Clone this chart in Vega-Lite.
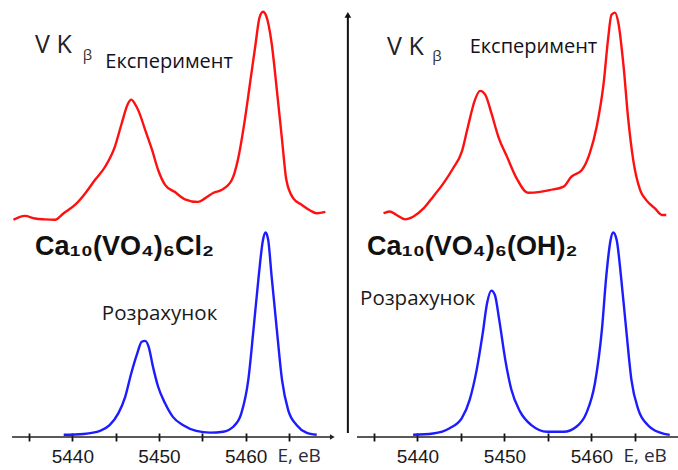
{
  "$schema": "https://vega.github.io/schema/vega-lite/v6.json",
  "padding": 0,
  "bounds": "flush",
  "spacing": 14,
  "background": "white",
  "config": {"view": {"stroke": null}, "font": "Liberation Sans"},
  "datasets": {
    "expL": [
      {"E":5433.2,"v":49.7},{"E":5434.5,"v":50.6},{"E":5435.7,"v":50.0},{"E":5436.8,"v":49.8},{"E":5438.0,"v":49.7},
      {"E":5439.0,"v":51.2},{"E":5440.3,"v":53.1},{"E":5441.5,"v":55.8},{"E":5442.6,"v":58.8},{"E":5443.8,"v":61.9},
      {"E":5444.9,"v":66.4},{"E":5445.7,"v":71.8},{"E":5446.4,"v":76.2},{"E":5446.8,"v":77.2},{"E":5447.2,"v":76.3},
      {"E":5447.6,"v":74.8},{"E":5448.4,"v":70.3},{"E":5449.2,"v":65.7},{"E":5449.9,"v":61.1},{"E":5450.7,"v":57.7},
      {"E":5451.8,"v":56.1},{"E":5453.0,"v":54.4},{"E":5454.5,"v":53.8},{"E":5455.3,"v":54.6},{"E":5456.3,"v":55.9},
      {"E":5457.2,"v":56.5},{"E":5458.4,"v":58.8},{"E":5459.1,"v":63.4},{"E":5459.9,"v":72.5},{"E":5460.5,"v":80.9},
      {"E":5461.1,"v":89.3},{"E":5461.6,"v":96.0},{"E":5462.0,"v":97.3},{"E":5462.4,"v":96.2},{"E":5463.0,"v":90.1},
      {"E":5463.6,"v":79.4},{"E":5464.2,"v":68.0},{"E":5464.7,"v":58.8},{"E":5465.5,"v":54.6},{"E":5466.5,"v":53.1},
      {"E":5467.4,"v":51.9},{"E":5468.2,"v":51.2},{"E":5469.2,"v":51.5}
    ],
    "calcL": [
      {"E":5439.0,"v":0.5},{"E":5441.3,"v":0.7},{"E":5443.2,"v":1.4},{"E":5444.3,"v":2.7},{"E":5445.3,"v":5.4},
      {"E":5446.1,"v":9.2},{"E":5446.8,"v":14.6},{"E":5447.5,"v":19.2},{"E":5448.0,"v":21.8},{"E":5448.4,"v":22.0},
      {"E":5448.8,"v":20.7},{"E":5449.3,"v":16.1},{"E":5449.9,"v":11.5},{"E":5450.7,"v":7.7},{"E":5451.6,"v":4.6},
      {"E":5452.8,"v":2.7},{"E":5454.3,"v":1.4},{"E":5455.9,"v":1.0},{"E":5457.4,"v":1.2},{"E":5458.6,"v":2.4},
      {"E":5459.5,"v":5.4},{"E":5460.3,"v":13.0},{"E":5460.9,"v":24.5},{"E":5461.5,"v":36.7},{"E":5462.0,"v":45.1},
      {"E":5462.3,"v":46.8},{"E":5462.6,"v":45.1},{"E":5463.0,"v":36.7},{"E":5463.6,"v":24.5},{"E":5464.2,"v":13.0},
      {"E":5464.9,"v":6.2},{"E":5465.9,"v":2.7},{"E":5467.0,"v":1.0},{"E":5468.2,"v":0.5}
    ],
    "expR": [
      {"E":5436.1,"v":51.2},{"E":5436.8,"v":51.6},{"E":5437.6,"v":50.8},{"E":5438.6,"v":49.8},{"E":5439.5,"v":50.4},
      {"E":5440.7,"v":52.3},{"E":5441.8,"v":55.0},{"E":5443.0,"v":58.1},{"E":5444.1,"v":61.5},{"E":5445.1,"v":65.3},
      {"E":5445.8,"v":71.0},{"E":5446.6,"v":77.1},{"E":5447.2,"v":79.2},{"E":5447.8,"v":78.3},{"E":5448.5,"v":74.1},
      {"E":5449.3,"v":68.7},{"E":5450.3,"v":64.1},{"E":5451.4,"v":59.2},{"E":5452.7,"v":55.9},{"E":5454.1,"v":56.1},
      {"E":5455.2,"v":56.5},{"E":5456.8,"v":57.3},{"E":5457.7,"v":59.6},{"E":5458.9,"v":61.1},{"E":5459.8,"v":64.9},
      {"E":5460.6,"v":71.0},{"E":5461.4,"v":80.9},{"E":5461.9,"v":90.8},{"E":5462.3,"v":96.6},{"E":5462.7,"v":97.1},
      {"E":5463.1,"v":94.7},{"E":5463.7,"v":84.7},{"E":5464.2,"v":73.3},{"E":5464.8,"v":63.4},{"E":5465.6,"v":56.5},
      {"E":5466.3,"v":54.2},{"E":5467.3,"v":52.3},{"E":5468.1,"v":50.8},{"E":5468.6,"v":50.8}
    ],
    "calcR": [
      {"E":5439.5,"v":0.5},{"E":5441.8,"v":0.8},{"E":5443.7,"v":2.0},{"E":5445.1,"v":4.3},{"E":5446.0,"v":8.5},
      {"E":5446.8,"v":15.3},{"E":5447.5,"v":23.7},{"E":5448.0,"v":30.6},{"E":5448.5,"v":33.5},{"E":5448.9,"v":32.5},
      {"E":5449.4,"v":26.8},{"E":5450.1,"v":17.6},{"E":5450.8,"v":10.8},{"E":5451.8,"v":5.8},{"E":5453.1,"v":2.7},
      {"E":5454.9,"v":1.2},{"E":5456.8,"v":1.2},{"E":5458.3,"v":2.4},{"E":5459.4,"v":5.4},{"E":5460.4,"v":12.3},
      {"E":5461.2,"v":24.5},{"E":5461.7,"v":36.7},{"E":5462.2,"v":45.1},{"E":5462.5,"v":46.8},{"E":5462.9,"v":45.1},
      {"E":5463.4,"v":36.7},{"E":5464.0,"v":24.5},{"E":5464.6,"v":13.0},{"E":5465.4,"v":6.2},{"E":5466.5,"v":2.7},
      {"E":5467.9,"v":1.0},{"E":5469.0,"v":0.5}
    ]
  },
  "hconcat": [
    {
      "width": 333,
      "height": 437,
      "encoding": {
        "x": {"field": "E", "type": "quantitative",
          "scale": {"domain": [5431.65, 5470.08], "nice": false, "zero": false},
          "axis": {"values": [5435,5440,5445,5450,5455,5460,5465], "format": "d",
            "labelExpr": "datum.value % 10 == 0 ? datum.label : ''",
            "domain": false, "grid": false, "offset": -4, "tickSize": 8, "tickWidth": 1.8, "tickColor": "#111",
            "labelFont": "Liberation Sans", "labelFontSize": 19, "labelColor": "#1a1a1a", "labelPadding": 6, "labelFlush": false,
            "title": "E, eB", "titleFont": "Open Sans", "titleFontSize": 19, "titleFontWeight": "normal", "titleColor": "#2a2a3a",
            "titleAlign": "left", "titleAnchor": "start", "titleX": 277, "titleY": 28, "titleBaseline": "alphabetic"}},
        "y": {"field": "v", "type": "quantitative", "scale": {"domain": [0, 100], "nice": false}, "axis": null}
      },
      "layer": [
        {"data": {"values": [{"E": 5433.04, "E2": 5470.0, "v": 0}]}, "mark": {"type": "rule", "stroke": "#222", "strokeWidth": 1.6},
         "encoding": {"x2": {"field": "E2"}}},
        {"data": {"values": [{"E": 5470.0, "v": 0}]}, "mark": {"type": "point", "shape": "triangle-right", "filled": true, "color": "#222", "size": 30, "opacity": 1}},
        {"data": {"name": "expL"}, "mark": {"type": "line", "color": "#ff1010", "strokeWidth": 2.4, "interpolate": "monotone"}},
        {"data": {"name": "calcL"}, "mark": {"type": "line", "color": "#1c1cff", "strokeWidth": 2.4, "interpolate": "monotone"}},
        {"data": {"values": [{"E": 5435.7, "v": 87.9, "t": "V K"}]},
         "mark": {"type": "text", "align": "left", "baseline": "alphabetic", "font": "Open Sans", "fontSize": 25, "color": "#222"},
         "encoding": {"text": {"field": "t"}}},
        {"data": {"values": [{"E": 5441.2, "v": 86.3, "t": "β"}]},
         "mark": {"type": "text", "align": "left", "baseline": "alphabetic", "font": "Open Sans", "fontSize": 15, "color": "#333"},
         "encoding": {"text": {"field": "t"}}},
        {"data": {"values": [{"E": 5443.8, "v": 84.4, "t": "Експеримент"}]},
         "mark": {"type": "text", "align": "left", "baseline": "alphabetic", "font": "Open Sans", "fontSize": 20, "color": "#111122"},
         "encoding": {"text": {"field": "t"}}},
        {"data": {"values": [{"E": 5435.7, "v": 41.6, "t": "Ca₁₀(VO₄)₆Cl₂"}]},
         "mark": {"type": "text", "align": "left", "baseline": "alphabetic", "font": "Liberation Sans", "fontWeight": "bold", "fontSize": 27, "color": "#111"},
         "encoding": {"text": {"field": "t"}}},
        {"data": {"values": [{"E": 5443.4, "v": 26.8, "t": "Розрахунок"}]},
         "mark": {"type": "text", "align": "left", "baseline": "alphabetic", "font": "Open Sans", "fontSize": 20.5, "color": "#1a1a1a"},
         "encoding": {"text": {"field": "t"}}}
      ]
    },
    {
      "width": 331,
      "height": 437,
      "encoding": {
        "x": {"field": "E", "type": "quantitative",
          "scale": {"domain": [5431.9, 5469.95], "nice": false, "zero": false},
          "axis": {"values": [5435,5440,5445,5450,5455,5460,5465], "format": "d",
            "labelExpr": "datum.value % 10 == 0 ? datum.label : ''",
            "domain": false, "grid": false, "offset": -4, "tickSize": 8, "tickWidth": 1.8, "tickColor": "#111",
            "labelFont": "Liberation Sans", "labelFontSize": 19, "labelColor": "#1a1a1a", "labelPadding": 6, "labelFlush": false,
            "title": "E, eB", "titleFont": "Open Sans", "titleFontSize": 19, "titleFontWeight": "normal", "titleColor": "#2a2a3a",
            "titleAlign": "left", "titleAnchor": "start", "titleX": 276, "titleY": 28, "titleBaseline": "alphabetic"}},
        "y": {"field": "v", "type": "quantitative", "scale": {"domain": [0, 100], "nice": false}, "axis": null}
      },
      "layer": [
        {"data": {"values": [{"E": 5433.05, "E2": 5469.95, "v": 0}]}, "mark": {"type": "rule", "stroke": "#222", "strokeWidth": 1.6},
         "encoding": {"x2": {"field": "E2"}}},
        {"data": {"values": [{"E": 5432.0, "v": 0.9, "v2": 96.5}]}, "mark": {"type": "rule", "stroke": "#111", "strokeWidth": 2},
         "encoding": {"y2": {"field": "v2"}}},
        {"data": {"values": [{"E": 5432.0, "v": 96.6}]}, "mark": {"type": "point", "shape": "triangle-up", "filled": true, "color": "#111", "size": 45, "opacity": 1}},
        {"data": {"name": "expR"}, "mark": {"type": "line", "color": "#ff1010", "strokeWidth": 2.4, "interpolate": "monotone"}},
        {"data": {"name": "calcR"}, "mark": {"type": "line", "color": "#1c1cff", "strokeWidth": 2.4, "interpolate": "monotone"}},
        {"data": {"values": [{"E": 5436.5, "v": 87.4, "t": "V K"}]},
         "mark": {"type": "text", "align": "left", "baseline": "alphabetic", "font": "Open Sans", "fontSize": 25, "color": "#222"},
         "encoding": {"text": {"field": "t"}}},
        {"data": {"values": [{"E": 5441.7, "v": 86.0, "t": "β"}]},
         "mark": {"type": "text", "align": "left", "baseline": "alphabetic", "font": "Open Sans", "fontSize": 15, "color": "#333"},
         "encoding": {"text": {"field": "t"}}},
        {"data": {"values": [{"E": 5446.0, "v": 87.9, "t": "Експеримент"}]},
         "mark": {"type": "text", "align": "left", "baseline": "alphabetic", "font": "Open Sans", "fontSize": 20, "color": "#111122"},
         "encoding": {"text": {"field": "t"}}},
        {"data": {"values": [{"E": 5434.2, "v": 41.6, "t": "Ca₁₀(VO₄)₆(OH)₂"}]},
         "mark": {"type": "text", "align": "left", "baseline": "alphabetic", "font": "Liberation Sans", "fontWeight": "bold", "fontSize": 27, "color": "#111"},
         "encoding": {"text": {"field": "t"}}},
        {"data": {"values": [{"E": 5433.4, "v": 30.2, "t": "Розрахунок"}]},
         "mark": {"type": "text", "align": "left", "baseline": "alphabetic", "font": "Open Sans", "fontSize": 20.5, "color": "#1a1a1a"},
         "encoding": {"text": {"field": "t"}}}
      ]
    }
  ]
}
